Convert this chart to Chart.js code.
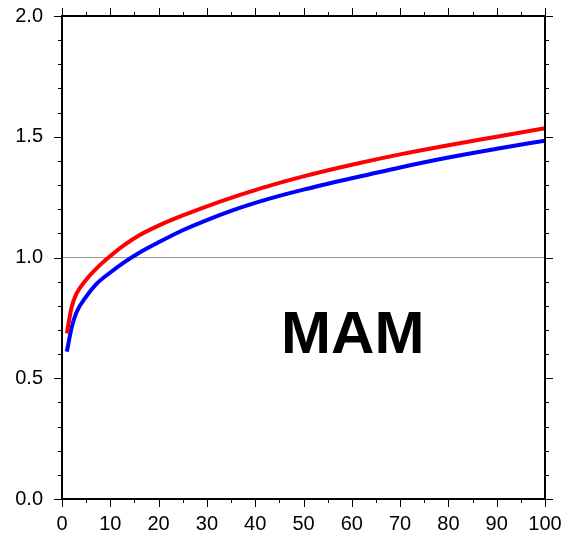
<!DOCTYPE html>
<html>
<head>
<meta charset="utf-8">
<script src="https://cdn.jsdelivr.net/npm/chart.js@4/dist/chart.umd.min.js"></script>
<style>
  html, body { margin: 0; padding: 0; background: #fff; }
  #wrap { width: 564px; height: 535px; }
</style>
</head>
<body>
<div id="wrap"><canvas id="chart" width="564" height="535"></canvas></div>
<script>
// sampled curve values
const lagX = [1, 2, 3, 5, 7, 10, 13, 16, 20, 25, 30, 35, 40, 45, 50, 60, 70, 80, 90, 100];
const redValues = [0.686, 0.795, 0.85, 0.908, 0.952, 1.006, 1.053, 1.092, 1.132, 1.174, 1.212, 1.247, 1.279, 1.309, 1.336, 1.384, 1.427, 1.465, 1.50, 1.535];
const blueValues = [0.61, 0.71, 0.773, 0.838, 0.888, 0.938, 0.982, 1.02, 1.063, 1.113, 1.155, 1.193, 1.226, 1.255, 1.281, 1.328, 1.373, 1.414, 1.45, 1.484];
const refLine = [1.0, 1.0];
const refX = [0, 100];
const seasonLabel = 'MAM';

const FONT = '"Liberation Sans", Arial, Helvetica, sans-serif';

function toPoints(xs, ys) {
  return xs.map((x, i) => ({ x: x, y: ys[i] }));
}

// frame, tick marks on all four sides, and the season label
const framePlugin = {
  id: 'frame',
  afterDatasetsDraw(chart) {
    const ctx = chart.ctx;
    const xs = chart.scales.x;
    const ys = chart.scales.y;
    const a = chart.chartArea;
    ctx.save();
    ctx.strokeStyle = '#000';

    // tick marks
    ctx.lineWidth = 1;
    ctx.beginPath();
    for (let v = 0; v <= 100; v += 5) {
      const len = v % 10 === 0 ? 8 : 4;
      const px = Math.round(xs.getPixelForValue(v)) + 0.5;
      ctx.moveTo(px, a.bottom); ctx.lineTo(px, a.bottom + len);
      ctx.moveTo(px, a.top); ctx.lineTo(px, a.top - len);
    }
    for (let i = 0; i <= 20; i++) {
      const v = i / 10;
      const len = i % 5 === 0 ? 8 : 4;
      const py = Math.round(ys.getPixelForValue(v)) + 0.5;
      ctx.moveTo(a.left, py); ctx.lineTo(a.left - len, py);
      ctx.moveTo(a.right, py); ctx.lineTo(a.right + len, py);
    }
    ctx.stroke();

    // frame
    ctx.lineWidth = 2;
    ctx.strokeRect(a.left, a.top, a.right - a.left, a.bottom - a.top);

    // season label
    ctx.fillStyle = '#000';
    ctx.font = 'bold 60px ' + FONT;
    ctx.textAlign = 'center';
    ctx.textBaseline = 'alphabetic';
    ctx.fillText(seasonLabel, xs.getPixelForValue(60.2), ys.getPixelForValue(0.606));
    ctx.restore();
  }
};

new Chart(document.getElementById('chart'), {
  type: 'line',
  data: {
    datasets: [
      {
        data: toPoints(lagX, redValues),
        borderColor: '#ff0000',
        borderWidth: 4,
        pointRadius: 0,
        cubicInterpolationMode: 'monotone',
        order: 1
      },
      {
        data: toPoints(lagX, blueValues),
        borderColor: '#0000ff',
        borderWidth: 4,
        pointRadius: 0,
        cubicInterpolationMode: 'monotone',
        order: 2
      },
      {
        data: toPoints(refX, refLine),
        borderColor: '#999999',
        borderWidth: 1,
        pointRadius: 0,
        order: 3
      }
    ]
  },
  options: {
    responsive: false,
    animation: false,
    layout: { padding: { top: 16, right: 19, left: 0, bottom: 0 } },
    plugins: {
      legend: { display: false },
      tooltip: { enabled: false }
    },
    scales: {
      x: {
        type: 'linear',
        min: 0,
        max: 100,
        border: { display: false },
        grid: { display: false, drawTicks: false },
        ticks: {
          stepSize: 10,
          padding: 13,
          color: '#000',
          font: { family: FONT, size: 20 },
          maxRotation: 0
        },
        afterFit(scale) {
          scale.height = 36;
          scale.paddingLeft = 0;
          scale.paddingRight = 0;
        }
      },
      y: {
        type: 'linear',
        min: 0,
        max: 2,
        border: { display: false },
        grid: { display: false, drawTicks: false },
        ticks: {
          stepSize: 0.5,
          padding: 19,
          color: '#000',
          font: { family: FONT, size: 20 },
          callback: (v) => v.toFixed(1)
        },
        afterFit(scale) {
          scale.width = 62;
          scale.paddingTop = 0;
          scale.paddingBottom = 0;
        }
      }
    }
  },
  plugins: [framePlugin]
});
</script>
</body>
</html>
